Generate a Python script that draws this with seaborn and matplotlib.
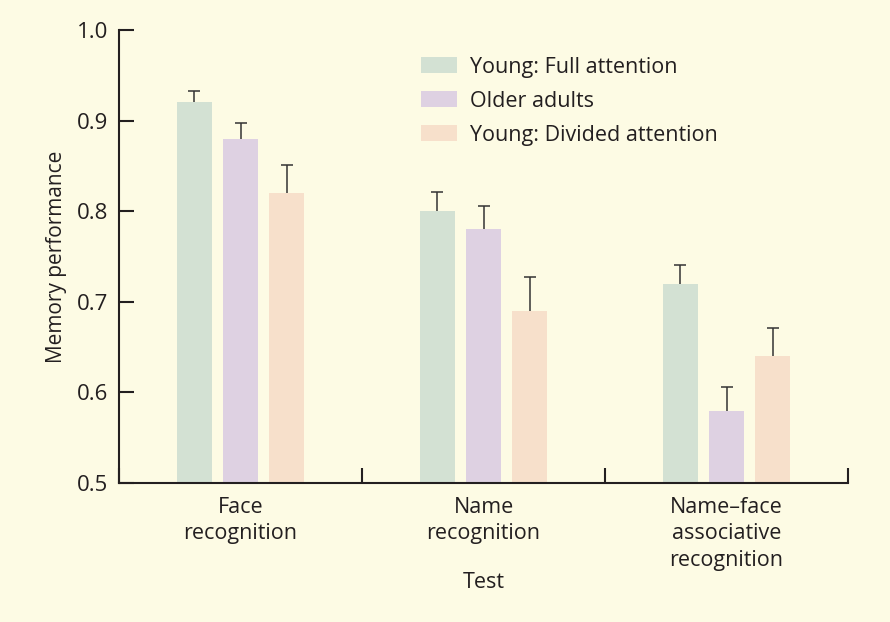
import matplotlib
matplotlib.use("Agg")
import matplotlib.pyplot as plt
import seaborn as sns
import pandas as pd
import numpy as np
from matplotlib.patches import Patch

tests = ["Face\nrecognition", "Name\nrecognition", "Name\u2013face\nassociative\nrecognition"]
groups = ["Young: Full attention", "Older adults", "Young: Divided attention"]
young_full = [0.92, 0.80, 0.72]
older = [0.88, 0.78, 0.58]
young_divided = [0.82, 0.69, 0.64]
err_young_full = [0.013, 0.021, 0.021]
err_older = [0.017, 0.026, 0.026]
err_young_divided = [0.031, 0.037, 0.031]
yticks = [0.5, 0.6, 0.7, 0.8, 0.9, 1.0]

colors = ["#D3E1D3", "#DED1E2", "#F7E0CB"]
bg = "#FDFBE4"
ink = "#231F20"

sns.set_theme(style="white")
plt.rcParams["font.family"] = ["Open Sans", "DejaVu Sans"]

rows = []
for g, vals, errs in zip(groups, [young_full, older, young_divided],
                         [err_young_full, err_older, err_young_divided]):
    for t, v, e in zip(tests, vals, errs):
        rows.append({"Test": t, "Group": g, "value": v, "err": e})
df = pd.DataFrame(rows)

fig = plt.figure(figsize=(8.9, 6.22), dpi=100, facecolor=bg)
ax = fig.add_axes([119/890, 1 - 483/622, (848 - 119)/890, (483 - 30)/622])
ax.set_facecolor(bg)

sns.barplot(data=df, x="Test", y="value", hue="Group", order=tests,
            hue_order=groups, palette=colors, width=0.57, gap=0.25,
            errorbar=None, legend=False, ax=ax, saturation=1, linewidth=0,
            zorder=2)

# error bars from bar geometry
for bar, (_, r) in zip(ax.patches, df.iterrows()):
    x = bar.get_x() + bar.get_width() / 2
    top = bar.get_height()
    eb = ax.errorbar([x], [top], yerr=[[0], [r["err"]]], fmt="none",
                     ecolor="#333333", elinewidth=1.1, capsize=4,
                     capthick=1.1, zorder=3)
    caps = eb.lines[1]
    if len(caps) > 0:
        caps[0].set_visible(False)

ax.set_ylim(0.5, 1.0)
ax.set_xlim(-0.5, 2.5)
ax.set_yticks(yticks)
ax.set_yticklabels([f"{v:.1f}" for v in yticks])
ax.set_xticks([-0.5, 0.5, 1.5, 2.5])
ax.set_xticklabels([])
ax.set_xticks(range(len(tests)), minor=True)
ax.set_xticklabels(tests, minor=True, fontsize=15.5, color=ink, linespacing=1.34)
ax.tick_params(axis="x", which="minor", bottom=True, length=0, pad=10)
ax.tick_params(axis="x", which="major", bottom=True, direction="in", length=11,
               width=1.5, color=ink)
ax.tick_params(axis="y", left=True, direction="in", length=11, width=1.5, color=ink,
               labelsize=16, labelcolor=ink, pad=8)

for s in ["top", "right"]:
    ax.spines[s].set_visible(False)
for s in ["left", "bottom"]:
    ax.spines[s].set_color(ink)
    ax.spines[s].set_linewidth(1.5)

ax.set_ylabel("Memory performance", fontsize=15, color=ink, labelpad=7)
ax.set_xlabel("Test", fontsize=15.5, color=ink, labelpad=1)

handles = [Patch(facecolor=c, edgecolor="none", label=g) for c, g in zip(colors, groups)]
fig.legend(handles=handles, loc="upper left", bbox_to_anchor=(410/890, 1 - 46/622),
           frameon=False, fontsize=15.5, handlelength=1.67, handleheight=0.75,
           handletextpad=0.6, labelspacing=0.6, borderpad=0, labelcolor=ink)

fig.savefig("out.png", dpi=100, facecolor=bg)
